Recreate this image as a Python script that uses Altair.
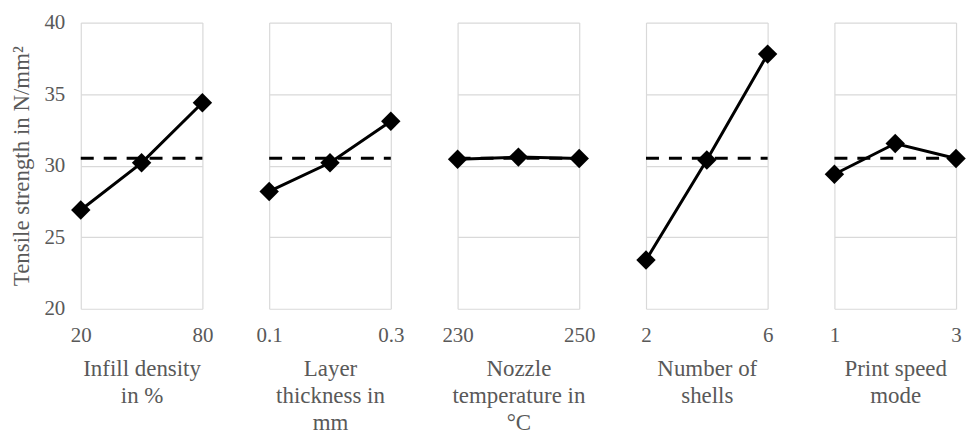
import altair as alt
import pandas as pd

# Factor names (multi-line axis titles)
factors = [
    ["Infill density", "in %"],
    ["Layer", "thickness in", "mm"],
    ["Nozzle", "temperature in", "°C"],
    ["Number of", "shells"],
    ["Print speed", "mode"],
]
levels = [
    [20, 50, 80],
    [0.1, 0.2, 0.3],
    [230, 240, 250],
    [2, 4, 6],
    [1, 2, 3],
]
strength = [
    [26.9, 30.2, 34.4],
    [28.2, 30.2, 33.1],
    [30.45, 30.6, 30.5],
    [23.4, 30.4, 37.8],
    [29.4, 31.55, 30.5],
]
label_formats = ["d", ".1f", "d", "d", "d"]
overall_mean = 30.52

FONT = "Liberation Serif"
GRAY = "#595959"
GRID = "#d9d9d9"
W, H = 122, 287

panels = []
for i in range(len(factors)):
    lv = levels[i]
    df = pd.DataFrame({"x": lv, "y": strength[i]})
    mean_df = pd.DataFrame({"x": [lv[0]], "x2": [lv[-1]], "y": [overall_mean]})
    xscale = alt.Scale(domain=[lv[0], lv[-1]], nice=False, zero=False)
    xaxis = alt.Axis(
        values=[lv[0], lv[-1]], format=label_formats[i], title=factors[i],
        grid=True, gridColor=GRID, gridWidth=1.2, domain=False, ticks=False,
        labelPadding=16, labelFontSize=21, labelColor=GRAY, labelFont=FONT,
        titleFont=FONT, titleFontSize=23, titleColor=GRAY, titleFontWeight="normal",
        titleLineHeight=27, titlePadding=12, labelFlush=False, labelOverlap=False,
    )
    yscale = alt.Scale(domain=[20, 40], nice=False, zero=False)
    if i == 0:
        yaxis = alt.Axis(
            values=[20, 25, 30, 35, 40], title="Tensile strength in N/mm²",
            grid=True, gridColor=GRID, gridWidth=1.2, domain=False, ticks=False,
            labelPadding=16, labelFontSize=21, labelColor=GRAY, labelFont=FONT,
            titleFont=FONT, titleFontSize=23, titleColor=GRAY, titleFontWeight="normal",
            titlePadding=10,
        )
    else:
        yaxis = alt.Axis(
            values=[20, 25, 30, 35, 40], title=None, labels=False,
            grid=True, gridColor=GRID, gridWidth=1.2, domain=False, ticks=False,
        )
    rule = alt.Chart(mean_df).mark_rule(
        color="black", strokeWidth=3, strokeDash=[13, 10]
    ).encode(
        x=alt.X("x:Q", scale=xscale, axis=xaxis),
        x2="x2:Q",
        y=alt.Y("y:Q", scale=yscale, axis=yaxis),
    )
    line = alt.Chart(df).mark_line(
        color="black", strokeWidth=3,
        point=alt.OverlayMarkDef(shape="diamond", size=380, filled=True, color="black", opacity=1),
    ).encode(
        x=alt.X("x:Q", scale=xscale, axis=xaxis),
        y=alt.Y("y:Q", scale=yscale, axis=yaxis),
    )
    panels.append(alt.layer(rule, line).properties(width=W, height=H))

chart = (
    alt.hconcat(*panels, spacing=67, bounds="flush")
    .configure(font=FONT, padding={"left": 2, "top": 3, "right": 0, "bottom": 0}, background="white")
    .configure_view(stroke=None)
    .configure_axis(labelFont=FONT, titleFont=FONT)
)

chart.save("out.html", embed_options={"renderer": "svg", "actions": False})
